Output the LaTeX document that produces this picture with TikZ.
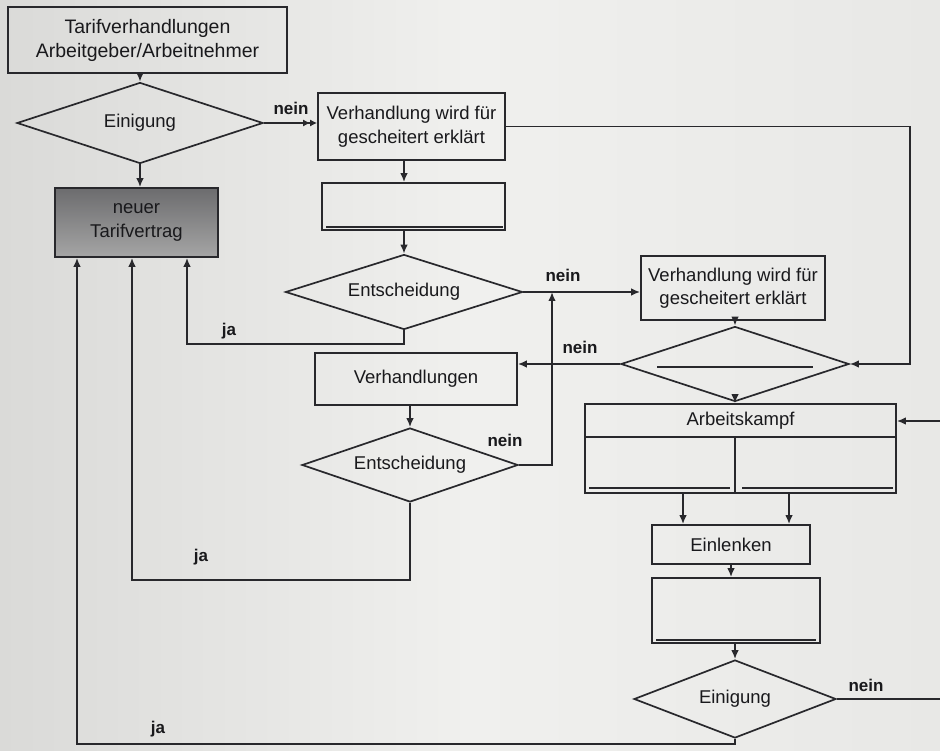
\documentclass[tikz,border=0pt]{standalone}
\usepackage{fontspec}
\setmainfont{Liberation Sans}
\usetikzlibrary{shapes.geometric,arrows.meta,calc}
\definecolor{ink}{RGB}{40,40,44}
\definecolor{txt}{RGB}{25,25,28}
\definecolor{paperL}{RGB}{218,218,216}
\definecolor{paperM}{RGB}{240,240,238}
\definecolor{paperR}{RGB}{232,232,230}
\definecolor{ntTop}{RGB}{108,108,110}
\definecolor{ntBot}{RGB}{165,165,165}
\begin{document}
\begin{tikzpicture}[x=1pt,y=-1pt,
  every node/.style={text=txt, font=\fontsize{18.5}{23.5}\selectfont},
  box/.style={draw=ink, line width=1.7pt, rectangle, inner sep=0pt, align=center},
  dia/.style={draw=ink, line width=1.7pt, diamond, aspect=3, inner sep=0pt, align=center},
  conn/.style={draw=ink, line width=1.7pt},
  arr/.style={conn, -{Latex[length=9pt,width=7.5pt]}},
  darr/.style={conn, -{Latex[length=7pt,width=7pt]Latex[length=7pt,width=7pt]}},
  lbl/.style={font=\bfseries\fontsize{17}{20}\selectfont, inner sep=0pt},
  blank/.style={draw=ink, line width=1.4pt},
]
\path[left color=paperL, right color=paperR, middle color=paperM] (0,0) rectangle (940,751);
\useasboundingbox (0,0) rectangle (940,751);

% nodes
\node[box, minimum width=279pt, minimum height=66pt, font=\fontsize{19.5}{24}\selectfont] (b1) at (147.5,40) {Tarifverhandlungen\\Arbeitgeber/Arbeitnehmer};
\node[dia, minimum width=246pt, minimum height=81pt] (d1) at (140,123) {Einigung};
\node[box, minimum width=163pt, minimum height=69pt, top color=ntTop, bottom color=ntBot, draw=ink] (nt) at (136.5,222.5) {neuer\\Tarifvertrag};
\node[box, minimum width=187pt, minimum height=67pt] (b2) at (411.5,126.5) {Verhandlung wird für\\gescheitert erklärt};
\node[box, minimum width=183pt, minimum height=47pt] (bA) at (413.5,206.5) {};
\node[dia, minimum width=237pt, minimum height=75pt] (e1) at (404,292) {Entscheidung};
\node[box, minimum width=184pt, minimum height=64pt] (b3) at (733,288) {Verhandlung wird für\\gescheitert erklärt};
\node[dia, minimum width=228pt, minimum height=75pt] (dB) at (735,364) {};
\node[box, minimum width=202pt, minimum height=52pt] (vh) at (416,379) {Verhandlungen};
\node[dia, minimum width=216pt, minimum height=74pt] (e2) at (410,465) {Entscheidung};
\node[box, minimum width=311pt, minimum height=89pt] (ak) at (740.5,448.5) {};
\node (akT) at (740.5,421) {Arbeitskampf};
\node[box, minimum width=158pt, minimum height=39pt] (el) at (731,544.5) {Einlenken};
\node[box, minimum width=168pt, minimum height=65pt] (bB) at (736,610.5) {};
\node[dia, minimum width=202pt, minimum height=78pt] (d3) at (735,699) {Einigung};

% labels
\node[lbl] (n1) at (291,108) {nein};
\node[lbl] (n2) at (563,275) {nein};
\node[lbl] (n3) at (580,347) {nein};
\node[lbl] (n4) at (505,440) {nein};
\node[lbl] (n5) at (866,685) {nein};
\node[lbl] (y1) at (229,331) {ja};
\node[lbl] (y2) at (201,557) {ja};
\node[lbl] (y3) at (158,729) {ja};

% inner lines (blank fields)
\draw[blank] ($(bA.south west)+(5,-4)$) -- ($(bA.south east)+(-3,-4)$);
\draw[blank] ($(dB.center)+(-78,3)$) -- ($(dB.center)+(78,3)$);
\draw[blank] ($(bB.south west)+(5,-4)$) -- ($(bB.south east)+(-5,-4)$);
\draw[conn] ($(ak.north west)+(0,34)$) -- ($(ak.north east)+(0,34)$);
\draw[conn] ($(ak.north)+(-5.5,34)$) -- ($(ak.south)+(-5.5,0)$);
\draw[blank] ($(ak.south west)+(5,-6)$) -- ($(ak.south)+(-10.5,-6)$);
\draw[blank] ($(ak.south)+(1.5,-6)$) -- ($(ak.south east)+(-4,-6)$);

% helper coordinates
\coordinate (rx) at (910,0);
\coordinate (ex) at (950,0);
\coordinate (nx) at (552,0);
\coordinate (kx1) at (683,0);
\coordinate (kx2) at (789,0);
\coordinate (j1) at (187,344);
\coordinate (j2) at (132,580);
\coordinate (j3) at (77,744);

% connectors
\draw[arr] (d1.north |- b1.south) -- (d1.north);
\draw[arr] (d1.south) -- (d1.south |- nt.north);
\draw[darr] (d1.east) -- (d1.east -| b2.west);
\draw[arr] (e1.north |- b2.south) -- (e1.north |- bA.north);
\draw[arr] (e1.north |- bA.south) -- (e1.north);
\draw[arr] (e1.east) -- (e1.east -| b3.west);
\draw[arr] (e1.south) -- (e1.south |- j1) -- (j1) -- (j1 |- nt.south);
\draw[arr] (b2.east) -- (b2.east -| rx) -- (rx |- dB.east) -- (dB.east);
\draw[arr] (dB.north |- b3.south) -- (dB.north);
\draw[arr] (dB.south) -- (dB.south |- ak.north);
\draw[arr] (dB.west) -- (dB.west -| vh.east);
\draw[arr] (e2.north |- vh.south) -- (e2.north);
\draw[arr] (e2.east) -- (e2.east -| nx) -- (nx |- e1.east);
\draw[arr] (e2.south) -- (e2.south |- j2) -- (j2) -- (j2 |- nt.south);
\draw[arr] (ak.south -| kx1) -- (el.north -| kx1);
\draw[arr] (ak.south -| kx2) -- (el.north -| kx2);
\draw[arr] (el.south) -- (el.south |- bB.north);
\draw[arr] (d3.north |- bB.south) -- (d3.north);
\draw[arr] (d3.east) -- (d3.east -| ex) -- (ex |- akT) -- (ak.east |- akT);
\draw[arr] (d3.south) -- (d3.south |- j3) -- (j3) -- (j3 |- nt.south);
\end{tikzpicture}
\end{document}
